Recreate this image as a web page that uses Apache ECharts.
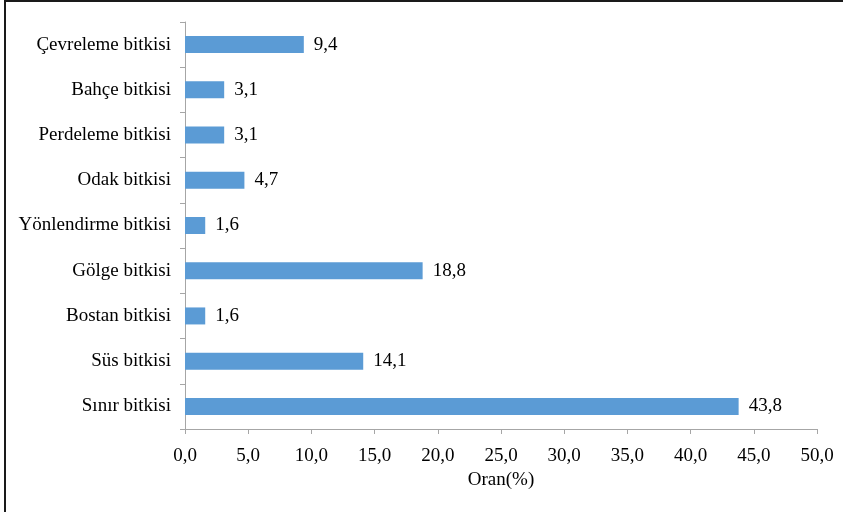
<!DOCTYPE html>
<html>
<head>
<meta charset="utf-8">
<script src="https://cdn.jsdelivr.net/npm/echarts@6/dist/echarts.min.js"></script>
<style>
  html, body { margin: 0; padding: 0; background: #fff; }
  #chart { width: 843px; height: 512px; }
</style>
</head>
<body>
<div id="chart"></div>
<script>
// Plant usage categories (bottom to top) and their share in percent
const categories = [
  'Sınır bitkisi',
  'Süs bitkisi',
  'Bostan bitkisi',
  'Gölge bitkisi',
  'Yönlendirme bitkisi',
  'Odak bitkisi',
  'Perdeleme bitkisi',
  'Bahçe bitkisi',
  'Çevreleme bitkisi'
];
const ratios = [43.8, 14.1, 1.6, 18.8, 1.6, 4.7, 3.1, 3.1, 9.4];
const xTicks = { min: 0, max: 50, interval: 5 };

const fmt = v => v.toFixed(1).replace('.', ',');
const font = 'Liberation Serif, Times New Roman, serif';
const fs = 19;

const chart = echarts.init(document.getElementById('chart'), null, { renderer: 'canvas' });
chart.setOption({
  animation: false,
  textStyle: { fontFamily: font },
  grid: { left: 185, right: 26, top: 22, bottom: 83, containLabel: false },
  xAxis: {
    type: 'value',
    min: xTicks.min, max: xTicks.max, interval: xTicks.interval,
    name: 'Oran(%)',
    nameLocation: 'middle',
    nameGap: 40,
    nameTextStyle: { fontFamily: font, fontSize: fs, color: '#000' },
    axisLine: { show: true, lineStyle: { color: '#a6a6a6', width: 1 } },
    axisTick: { show: true, length: 5, lineStyle: { color: '#a6a6a6' } },
    axisLabel: { formatter: v => fmt(v), fontFamily: font, fontSize: fs, color: '#000', margin: 18 },
    splitLine: { show: false }
  },
  yAxis: {
    type: 'category',
    data: categories,
    axisLine: { show: true, lineStyle: { color: '#a6a6a6', width: 1 } },
    axisTick: { show: true, length: 5, lineStyle: { color: '#a6a6a6' } },
    axisLabel: { fontFamily: font, fontSize: fs, color: '#000', margin: 14 }
  },
  series: [{
    type: 'bar',
    data: ratios,
    barWidth: 17,
    itemStyle: { color: '#5b9bd5' },
    label: {
      show: true,
      position: 'right',
      distance: 10,
      formatter: p => fmt(p.value),
      fontFamily: font,
      fontSize: fs,
      color: '#000'
    }
  }],
  graphic: [
    { type: 'line', shape: { x1: 5, y1: 1, x2: 843, y2: 1 }, style: { stroke: '#1a1a1a', lineWidth: 2 } },
    { type: 'line', shape: { x1: 5, y1: 0, x2: 5, y2: 512 }, style: { stroke: '#1a1a1a', lineWidth: 2 } }
  ]
});
</script>
</body>
</html>
